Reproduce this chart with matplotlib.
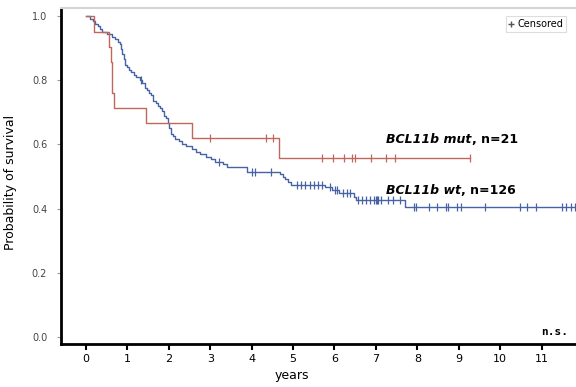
import numpy as np
import matplotlib
matplotlib.use("Agg")
import matplotlib.pyplot as plt
from matplotlib.lines import Line2D

# BCL11b mutated (n=21): step times (years) and survival after each step
mut_t = [0, 0.19, 0.56, 0.60, 0.62, 0.64, 0.68, 1.44, 2.55, 4.67, 9.26]
mut_p = [1.0, 0.952, 0.905, 0.857, 0.810, 0.762, 0.714, 0.667, 0.619, 0.557, 0.557]
mut_cens = [2.99, 4.34, 4.52, 5.69, 5.97, 6.23, 6.42, 6.50, 6.88, 7.25, 7.46, 9.26]

# BCL11b wild type (n=126)
wt_t = [0, 0.10, 0.17, 0.22, 0.28, 0.34, 0.40, 0.50, 0.62, 0.70, 0.78, 0.82, 0.85, 0.88,
        0.91, 0.94, 0.98, 1.04, 1.10, 1.16, 1.22, 1.30, 1.36, 1.42, 1.47, 1.52, 1.57, 1.62,
        1.68, 1.74, 1.79, 1.84, 1.88, 1.93, 1.97, 2.01, 2.05, 2.10, 2.16, 2.24, 2.32, 2.42,
        2.55, 2.65, 2.76, 2.90, 3.02, 3.12, 3.30, 3.40, 3.89, 4.69, 4.75, 4.81, 4.88, 4.95,
        5.77, 5.95, 6.10, 6.46, 6.52, 7.70, 11.80]
wt_p = [1.0, 0.992, 0.984, 0.976, 0.968, 0.960, 0.952, 0.944, 0.936, 0.928, 0.920, 0.912, 0.897, 0.881,
        0.865, 0.849, 0.841, 0.833, 0.825, 0.817, 0.809, 0.801, 0.793, 0.777, 0.769, 0.761, 0.753, 0.737,
        0.729, 0.721, 0.713, 0.705, 0.690, 0.682, 0.666, 0.650, 0.634, 0.626, 0.618, 0.610, 0.602, 0.594,
        0.586, 0.578, 0.570, 0.562, 0.554, 0.546, 0.538, 0.530, 0.515, 0.507, 0.499, 0.491, 0.483, 0.475,
        0.466, 0.457, 0.448, 0.437, 0.427, 0.404, 0.404]
wt_cens = [1.32, 3.21, 4.02, 4.08, 4.46, 5.10, 5.20, 5.30, 5.40, 5.50, 5.60, 5.70, 5.90, 6.02, 6.06,
           6.20, 6.30, 6.38, 6.56, 6.66, 6.76, 6.86, 6.96, 7.00, 7.02, 7.04, 7.12, 7.28, 7.42, 7.58,
           7.91, 7.97, 8.29, 8.47, 8.69, 8.74, 8.95, 9.06, 9.64, 10.48, 10.64, 10.87, 11.49, 11.59,
           11.71, 11.80]

x_ticks = list(range(0, 12))
y_ticks = [0.0, 0.2, 0.4, 0.6, 0.8, 1.0]

red = "#c0675c"
blue = "#4862a6"


def surv_at(times, probs, t):
    i = np.searchsorted(times, t, side="right") - 1
    return probs[i]


fig = plt.figure(figsize=(5.76, 3.87), dpi=100)
ax = fig.add_axes([0.106, 0.111, 0.894, 0.868])

for t, p, cens, col in [(wt_t, wt_p, wt_cens, blue), (mut_t, mut_p, mut_cens, red)]:
    ax.plot(t, p, drawstyle="steps-post", color=col, linewidth=1.0)
    cy = [surv_at(t, p, c) for c in cens]
    ax.plot(cens, cy, linestyle="none", marker="|", markersize=6,
            markeredgewidth=0.9, color=col)

ax.set_xlim(-0.6, 11.83)
ax.set_ylim(-0.022, 1.025)
ax.set_xticks(x_ticks)
ax.set_yticks(y_ticks)
ax.set_yticklabels(["%.1f" % v for v in y_ticks])

ax.spines["left"].set_linewidth(2)
ax.spines["bottom"].set_linewidth(2)
ax.spines["top"].set_color("#d4d4d4")
ax.spines["top"].set_linewidth(1.5)
ax.spines["right"].set_visible(False)

ax.tick_params(axis="x", direction="out", length=4, width=1.5, colors="black",
               labelsize=8, pad=3)
ax.tick_params(axis="y", direction="out", length=3, width=0.8, colors="#999999",
               labelcolor="#444444", labelsize=7, pad=7)

ax.set_ylabel("Probability of survival", fontsize=9)
ax.set_xlabel("years", fontsize=9, labelpad=0)
ax.xaxis.set_label_coords(0.449, -0.075)
ax.yaxis.set_label_coords(-0.085, 0.48)

# group labels
t1 = ax.text(7.25, 0.614, "BCL11b mut", fontsize=9, fontweight="bold",
             fontstyle="italic", va="center", ha="left")
ax.annotate(", n=21", xy=(1, 0.5), xycoords=t1, va="center", ha="left",
            fontsize=9, fontweight="bold")
t2 = ax.text(7.25, 0.458, "BCL11b wt", fontsize=9, fontweight="bold",
             fontstyle="italic", va="center", ha="left")
ax.annotate(", n=126", xy=(1, 0.5), xycoords=t2, va="center", ha="left",
            fontsize=9, fontweight="bold")

ax.text(0.985, 0.035, "n.s.", transform=ax.transAxes, ha="right", va="center",
        fontsize=8, fontweight="bold", family="DejaVu Sans Mono")

handle = Line2D([], [], linestyle="none", marker="+", markersize=5, color="#555555")
leg = ax.legend([handle], ["Censored"], loc="upper right", fontsize=7,
                handlelength=0.6, handletextpad=0.3, borderpad=0.3,
                fancybox=False, framealpha=1, bbox_to_anchor=(0.99, 0.99))
leg.get_frame().set_edgecolor("#dddddd")
leg.get_frame().set_linewidth(0.8)

fig.savefig("out.png", dpi=100)
